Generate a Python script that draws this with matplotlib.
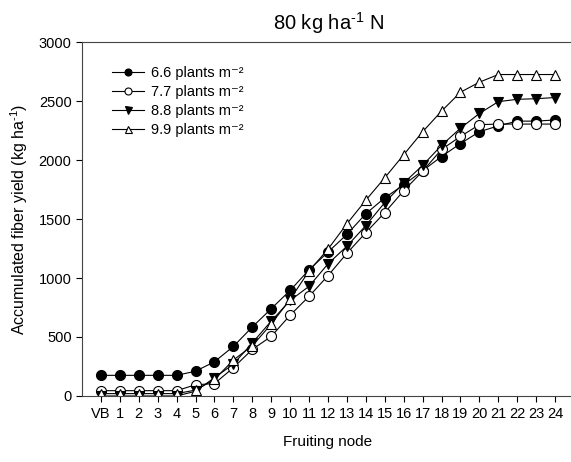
import numpy as np
import matplotlib
matplotlib.use("Agg")
import matplotlib.pyplot as plt

plt.rcParams["font.family"] = ["Liberation Sans", "DejaVu Sans"]
plt.rcParams["mathtext.fontset"] = "custom"
plt.rcParams["mathtext.rm"] = "Liberation Sans"
plt.rcParams["mathtext.it"] = "Liberation Sans"

# fruiting node labels
nodes = ["VB"] + [str(i) for i in range(1, 25)]

# accumulated fiber yield (kg/ha) for each plant density
y_66 = [175, 175, 175, 175, 175, 210, 290, 420, 585, 740, 895, 1070, 1220,
        1370, 1545, 1680, 1790, 1910, 2030, 2140, 2240, 2290, 2330, 2330, 2340]
y_77 = [45, 45, 45, 45, 45, 95, 105, 240, 395, 505, 685, 845, 1020,
        1210, 1385, 1555, 1740, 1905, 2090, 2200, 2300, 2305, 2305, 2305, 2305]
y_88 = [0, 0, 0, 0, 0, 40, 155, 270, 450, 635, 810, 930, 1120,
        1270, 1445, 1640, 1805, 1955, 2125, 2270, 2395, 2495, 2515, 2520, 2530]
y_99 = [20, 20, 20, 20, 20, 50, 140, 305, 425, 610, 820, 1060, 1245,
        1460, 1660, 1850, 2045, 2240, 2415, 2575, 2660, 2725, 2725, 2725, 2725]

labels = ["6.6 plants m\u207b\u00b2", "7.7 plants m\u207b\u00b2",
          "8.8 plants m\u207b\u00b2", "9.9 plants m\u207b\u00b2"]

x = np.arange(len(nodes))

fig = plt.figure(figsize=(5.71, 4.62), dpi=100)
ax = fig.add_axes([0.1436, 0.1429, 0.8617, 0.766])

common = dict(color="black", lw=0.8, markersize=7.2, markeredgewidth=0.8,
              markeredgecolor="black")
ax.plot(x, y_66, marker="o", markerfacecolor="black", label=labels[0], **common)
ax.plot(x, y_77, marker="o", markerfacecolor="white", label=labels[1], **common)
ax.plot(x, y_88, marker="v", markerfacecolor="black", label=labels[2], **common)
ax.plot(x, y_99, marker="^", markerfacecolor="white", label=labels[3], **common)

ax.set_xlim(-1, 25)
ax.set_ylim(0, 3000)
ax.set_xticks(x)
ax.set_xticklabels(nodes)
ax.set_yticks(np.arange(0, 3001, 500))
ax.tick_params(axis="both", labelsize=10.5, direction="out", length=4, width=0.8)
ax.tick_params(axis="x", pad=4)

for s in ["left", "bottom", "top"]:
    ax.spines[s].set_linewidth(0.8)
    ax.spines[s].set_color("#444444")
ax.spines["right"].set_visible(False)

ax.set_xlabel("Fruiting node", fontsize=11, labelpad=10)
ax.set_ylabel(r"Accumulated fiber yield (kg ha$^{\text{-1}}$)", fontsize=11.5, labelpad=6)
ax.set_title(r"80 kg ha$^{\text{-1}}$ N", fontsize=14.5, pad=9)

leg = ax.legend(loc="upper left", bbox_to_anchor=(0.04, 0.962), frameon=False,
                fontsize=10.5, markerscale=0.7, handlelength=2.2,
                labelspacing=0.34, handletextpad=0.5, borderpad=0.2)

fig.savefig("out.png", dpi=100)
